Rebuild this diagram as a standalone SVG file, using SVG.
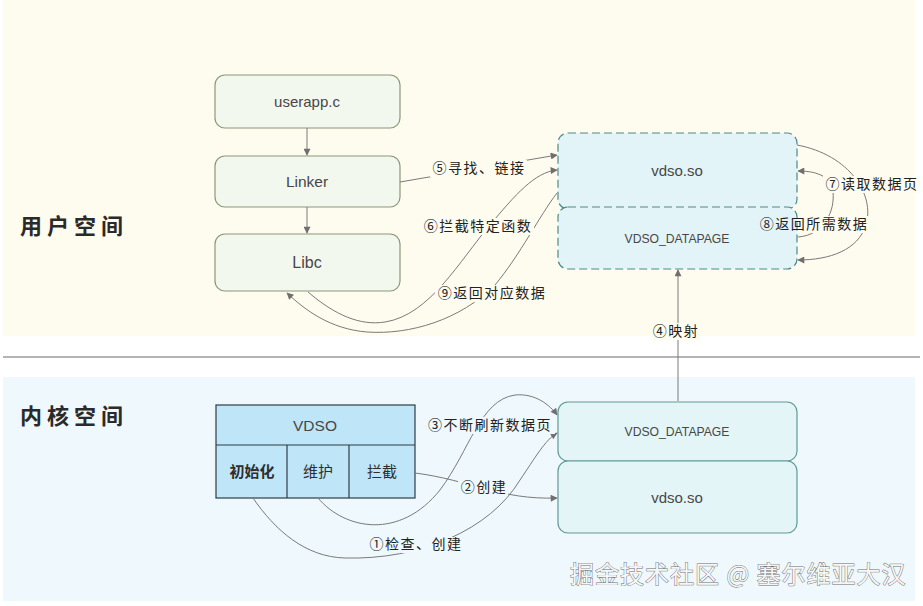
<svg xmlns="http://www.w3.org/2000/svg" width="923" height="606" viewBox="0 0 923 606">
<defs>
<marker id="arr" viewBox="0 0 10 10" refX="9" refY="5" markerWidth="8" markerHeight="7" markerUnits="userSpaceOnUse" orient="auto">
<path d="M0,0 L10,5 L0,10 Z" fill="#6f6f6f"/>
</marker>
<style>
.ubox{fill:#F3F8EE;stroke:#8C9878;stroke-width:1.2}
.dbox{fill:#E2F4F7;stroke:#4F8A8A;stroke-width:1.2;stroke-dasharray:8 4}
.kbox{fill:#E4F5F7;stroke:#5E9A96;stroke-width:1.2}
.tbl{fill:#BEE6F8;stroke:#2F3B45;stroke-width:1.2}
.nt{font-family:"Liberation Sans",Arial,sans-serif;fill:#474747;text-anchor:middle}
.cn{font-family:"Noto Sans CJK SC","Noto Sans",sans-serif;fill:#2e2e2e;text-anchor:middle}
.lbl{font-family:"Noto Sans CJK SC","Noto Sans",sans-serif;font-size:14px;fill:#222;text-anchor:middle;letter-spacing:1.5px}
.sec{font-family:"Noto Sans CJK SC","Noto Sans",sans-serif;font-size:22px;font-weight:bold;fill:#2a2a2a;letter-spacing:5px}
.c{fill:none;stroke:#7a7a7a;stroke-width:1}
.bgu{fill:#FEFBEF}
.bgk{fill:#EFF8FC}
</style>
</defs>

<!-- backgrounds -->
<rect x="3" y="0" width="912" height="336" fill="#FEFBEF"/>
<rect x="3" y="377" width="912" height="224" fill="#EFF8FC"/>
<line x1="3" y1="357" x2="920" y2="357" stroke="#6a6a6a" stroke-width="1.2"/>
<text class="sec" x="20" y="234">用户空间</text>
<text class="sec" x="20" y="424">内核空间</text>

<!-- user space nodes -->
<g id="userapp"><rect class="ubox" x="215" y="75" width="185" height="53" rx="10"/><text class="nt" x="307" y="107" font-size="15">userapp.c</text></g>
<g id="linker"><rect class="ubox" x="215" y="156" width="185" height="51" rx="10"/><text class="nt" x="307" y="187" font-size="15.5">Linker</text></g>
<g id="libc"><rect class="ubox" x="215" y="234" width="185" height="57" rx="10"/><text class="nt" x="307" y="268" font-size="16">Libc</text></g>
<g id="u_vdso"><rect class="dbox" x="558" y="133" width="239" height="76" rx="10"/><text class="nt" x="677" y="176" font-size="15">vdso.so</text></g>
<g id="u_datapage"><rect class="dbox" x="558" y="207" width="239" height="62" rx="10"/><text class="nt" x="677" y="243" font-size="12.2">VDSO_DATAPAGE</text></g>

<!-- kernel nodes -->
<g id="k_datapage"><rect class="kbox" x="558" y="402" width="239" height="59" rx="10"/><text class="nt" x="677" y="436" font-size="12.2">VDSO_DATAPAGE</text></g>
<g id="k_vdso"><rect class="kbox" x="558" y="461" width="239" height="72" rx="10"/><text class="nt" x="677" y="503" font-size="15">vdso.so</text></g>
<g id="vdso_table">
<rect class="tbl" x="216" y="405" width="199" height="93"/>
<line x1="216" y1="445" x2="415" y2="445" stroke="#2F3B45" stroke-width="1.2"/>
<line x1="287" y1="445" x2="287" y2="498" stroke="#2F3B45" stroke-width="1.2"/>
<line x1="349" y1="445" x2="349" y2="498" stroke="#2F3B45" stroke-width="1.2"/>
<text class="nt" x="315" y="431" font-size="15.5" fill="#4a4a4a">VDSO</text>
<text class="cn" x="252" y="477" font-size="15" font-weight="bold">初始化</text>
<text class="cn" x="318" y="477" font-size="15">维护</text>
<text class="cn" x="382" y="477" font-size="15">拦截</text>
</g>

<!-- connectors -->
<g id="connectors">
<path class="c" d="M307,128 L307,155" marker-end="url(#arr)"/>
<path class="c" d="M307,207 L307,233" marker-end="url(#arr)"/>
<path class="c" d="M400,182 L557,155" marker-end="url(#arr)"/>
<path class="c" d="M308,292 C335,315 360,326 385,322 C430,315 460,260 490,225 C515,195 535,172 557,170" marker-end="url(#arr)"/>
<path class="c" d="M557,193 C540,215 520,255 495,285 C460,320 410,335 367,332 C330,329 305,310 287,293" marker-end="url(#arr)"/>
<path class="c" d="M797,145 C850,155 875,195 866,225 C858,250 830,260 798,260" marker-end="url(#arr)"/>
<path class="c" d="M798,237 C825,235 835,210 833,192 C831,178 820,171 798,171" marker-end="url(#arr)"/>
<path class="c" d="M678,401 L678,270" marker-end="url(#arr)"/>
<path class="c" d="M415,473 C470,480 500,500 557,498" marker-end="url(#arr)"/>
<path class="c" d="M318,498 C345,530 400,540 440,490 C470,450 480,400 515,395 C535,393 550,405 557,415" marker-end="url(#arr)"/>
<path class="c" d="M253,498 C275,530 305,557 345,558 C420,560 490,530 520,480 C535,458 545,440 557,433" marker-end="url(#arr)"/>

<rect class="bgu" x="430" y="160" width="97" height="17"/>
<text class="lbl" x="479" y="173">⑤寻找、链接</text>
<rect class="bgu" x="420" y="218" width="114" height="17"/>
<text class="lbl" x="478" y="231">⑥拦截特定函数</text>
<rect class="bgu" x="435" y="285" width="112" height="17"/>
<text class="lbl" x="492" y="298">⑨返回对应数据</text>
<rect class="bgu" x="823" y="176" width="97" height="17"/>
<text class="lbl" x="872" y="189">⑦读取数据页</text>
<rect class="bgu" x="798" y="216" width="72" height="17"/>
<text class="lbl" x="814" y="229">⑧返回所需数据</text>
<rect class="bgu" x="651" y="323" width="49" height="17"/>
<text class="lbl" x="676" y="336">④映射</text>
<rect class="bgk" x="425" y="417" width="130" height="17"/>
<text class="lbl" x="490" y="430">③不断刷新数据页</text>
<rect class="bgk" x="458" y="479" width="50" height="17"/>
<text class="lbl" x="484" y="492">②创建</text>
<rect class="bgk" x="366" y="537" width="98" height="16"/>
<text class="lbl" x="416" y="549">①检查、创建</text>
</g>

<text x="570" y="583" font-family="Noto Sans CJK SC, Noto Sans, sans-serif" font-size="24" letter-spacing="1" fill="#f6f6f6" stroke="#6e6e6e" stroke-width="0.9" paint-order="stroke">掘金技术社区 @ 塞尔维亚大汉</text>
</svg>
